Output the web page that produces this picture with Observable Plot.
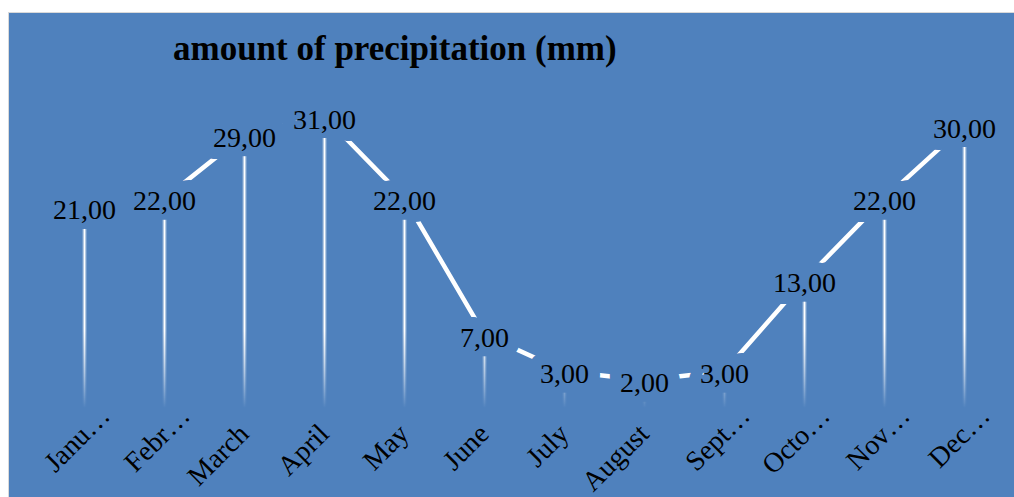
<!DOCTYPE html>
<html>
<head>
<meta charset="utf-8">
<script src="https://cdn.jsdelivr.net/npm/d3@7"></script>
<script src="https://cdn.jsdelivr.net/npm/@observablehq/plot@0.6"></script>
<style>
  html, body { margin: 0; padding: 0; background: #ffffff; width: 1014px; height: 497px; overflow: hidden; }
  #frame { position: absolute; left: 8px; top: 12px; right: 0; bottom: 0; background: #4F81BD;
           border-left: 1.5px solid #D9D9D9; border-top: 1.5px solid #D9D9D9; }
  #chart { position: absolute; left: 0; top: 0; }
  #title { position: absolute; left: 173px; top: 29px; font: bold 35px "Liberation Serif", "Times New Roman", serif;
           line-height: 40px; color: #000; white-space: nowrap; }
</style>
</head>
<body>
<div id="frame"></div>
<svg width="0" height="0" style="position:absolute">
  <defs>
    <linearGradient id="dropFade" gradientUnits="userSpaceOnUse" x1="0" x2="0" y1="0" y2="1">
      <stop offset="0" stop-color="#ffffff" stop-opacity="1"></stop>
      <stop offset="1" stop-color="#ffffff" stop-opacity="0"></stop>
    </linearGradient>
  </defs>
</svg>
<div id="chart"></div>
<div id="title">amount of precipitation (mm)</div>
<script>
// ---- data ----
const months = ["January", "February", "March", "April", "May", "June",
                "July", "August", "September", "October", "November", "December"];
const tickLabels = ["Janu…", "Febr…", "March", "April", "May", "June",
                    "July", "August", "Sept…", "Octo…", "Nov…", "Dec…"];
const precipitation = [21, 22, 29, 31, 22, 7, 3, 2, 3, 13, 22, 30];

const rows = months.map((m, i) => ({month: m, label: tickLabels[i], value: precipitation[i]}));
const fmt = v => d3.format(".2f")(v).replace(".", ",");
const isTrunc = d => d.label.endsWith("…");

const bg = "#4F81BD";
const serif = "'Liberation Serif', 'Times New Roman', serif";
const labelOpts = {x: "month", y: "value", text: d => fmt(d.value), dy: 12, lineAnchor: "bottom",
                   fontSize: 28, fontFamily: serif};

const chart = Plot.plot({
  width: 1014,
  height: 497,
  marginLeft: 84,
  marginRight: 50,
  marginTop: 116,
  marginBottom: 99,
  style: {background: "transparent", overflow: "visible"},
  x: {type: "point", domain: months, padding: 0, axis: null},
  y: {domain: [0, 31], axis: null},
  marks: [
    Plot.line(rows, {x: "month", y: "value", stroke: "#ffffff", strokeWidth: 4.5}),
    // label boxes (background-coloured halo hiding the line)
    Plot.text(rows, {...labelOpts, fill: bg, stroke: bg, strokeWidth: 24, strokeLinejoin: "round"}),
    // drop lines
    Plot.ruleX(rows, {x: "month", y1: 0, y2: "value", dy: 22, stroke: "url(#dropFade)", strokeWidth: 4, strokeOpacity: 0.4}),
    Plot.ruleX(rows, {x: "month", y1: 0, y2: "value", dy: 22, stroke: "url(#dropFade)", strokeWidth: 1.6}),
    // value labels
    Plot.text(rows, {...labelOpts, fill: "#000000"}),
    // category labels
    Plot.text(rows.filter(d => !isTrunc(d)), {x: "month", text: "label", frameAnchor: "bottom",
      rotate: -45, textAnchor: "end", lineAnchor: "bottom", dx: 6, dy: 37,
      fontSize: 28, fontFamily: serif, fill: "#000000"}),
    Plot.text(rows.filter(d => isTrunc(d)), {x: "month", text: "label", frameAnchor: "bottom",
      rotate: -45, textAnchor: "end", lineAnchor: "bottom", dx: 27, dy: 19,
      fontSize: 28, fontFamily: serif, fill: "#000000"})
  ]
});

document.getElementById("chart").appendChild(chart);

// gradient for the drop lines, placed with the y scale
const ys = chart.scale("y");
const g = document.getElementById("dropFade");
g.setAttribute("y1", ys.apply(10));
g.setAttribute("y2", ys.apply(0) - 12);
</script>
</body>
</html>
